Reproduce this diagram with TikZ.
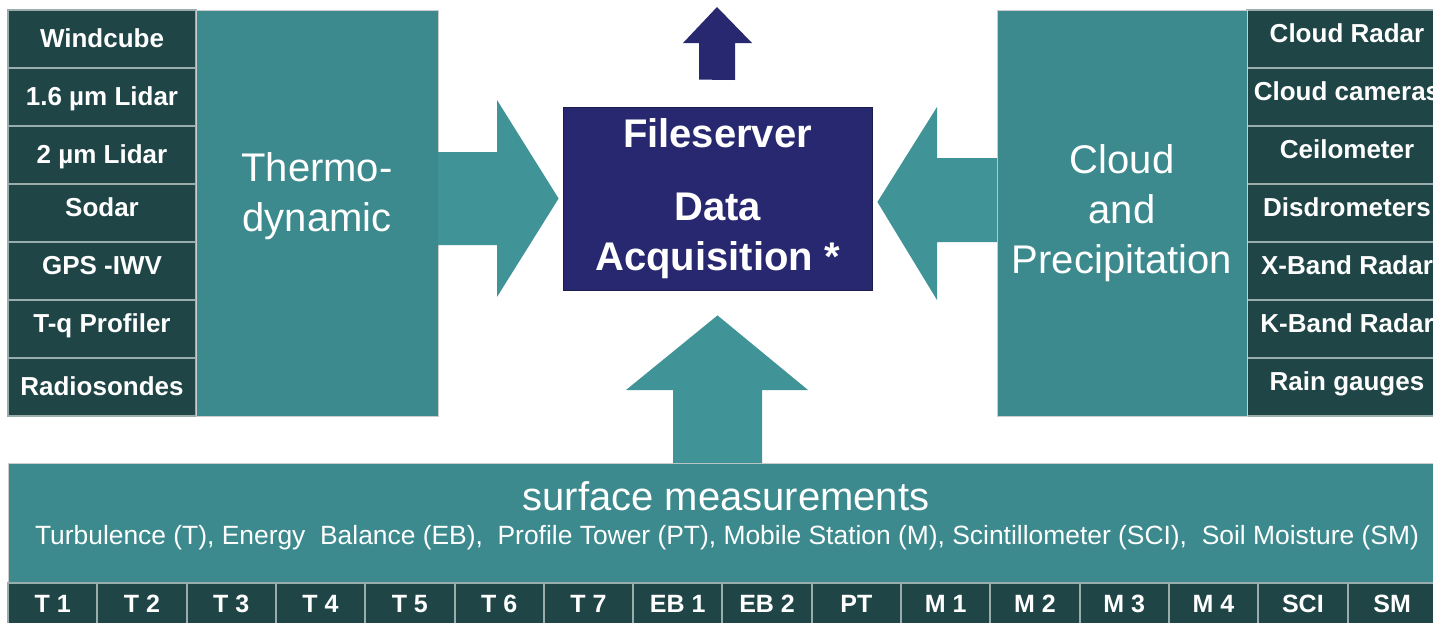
\documentclass[tikz,border=0pt]{standalone}
\usepackage{fontspec}
\setmainfont{Liberation Sans}
\usepackage{tikz}
\usetikzlibrary{positioning, calc}

\definecolor{cellDark}{HTML}{1F4547}
\definecolor{cellLine}{HTML}{9AADAD}
\definecolor{panelTeal}{HTML}{3C8A8E}
\definecolor{flowTeal}{HTML}{409397}
\definecolor{serverBlue}{HTML}{27286F}

\tikzset{
    cell/.style   = {draw=cellLine, line width=1pt, fill=cellDark, text=white,
                     inner sep=0pt, outer sep=0pt, minimum width=94pt,
                     minimum height=29pt, text height=12pt, text depth=4pt,
                     font=\bfseries\fontsize{13}{15}\selectfont},
    upper/.style  = {text depth=9pt},                 % text sits high in the row
    rcell/.style  = {cell, upper, minimum width=100pt},
    bcell/.style  = {cell, minimum width=44.65pt, minimum height=21pt,
                     font=\bfseries\fontsize{12.5}{15}\selectfont},
    panel/.style  = {draw=gray!40, line width=0.5pt, fill=panelTeal, text=white,
                     inner sep=0pt, outer sep=0pt, align=center,
                     font=\fontsize{20}{25}\selectfont},
    server/.style = {draw=serverBlue!70!black, fill=serverBlue, text=white,
                     align=center, inner sep=0pt, minimum width=154.5pt,
                     minimum height=91.5pt, font=\bfseries\fontsize{20}{25}\selectfont},
    flow/.style   = {fill=flowTeal},
}

\begin{document}
\begin{tikzpicture}[x=0.5pt, y=-0.5pt]
    \useasboundingbox (0,0) rectangle (1433,622);
    \fill[white] (0,0) rectangle (1433,622);
    \clip (0,0) rectangle (1433,622);

    % Thermodynamic instruments
    \node[cell] (wc) at (102,39) {Windcube};
    \node[cell, below=0pt of wc] (lid16) {1.6 µm Lidar};
    \node[cell, below=0pt of lid16] (lid2) {2 µm Lidar};
    \node[cell, upper, below=0pt of lid2] (sodar) {Sodar};
    \node[cell, upper, below=0pt of sodar] (gps) {GPS -IWV};
    \node[cell, upper, below=0pt of gps] (tq) {T-q Profiler};
    \node[cell, below=0pt of tq] (rs) {Radiosondes};

    \node[panel, minimum width=121pt, minimum height=203pt, anchor=north west]
        (thermo) at (wc.north east) {};
    \node[text=white, align=center, font=\fontsize{20}{25}\selectfont]
        (thermoT) at (317,196) {Thermo-\\dynamic};

    % Cloud and precipitation instruments
    \node[rcell] (cr) at (1347,39) {Cloud Radar};
    \node[rcell, below=0pt of cr] (cc) {Cloud cameras};
    \node[rcell, below=0pt of cc] (ceil) {Ceilometer};
    \node[rcell, below=0pt of ceil] (dis) {Disdrometers};
    \node[rcell, below=0pt of dis] (xb) {X-Band Radar};
    \node[rcell, below=0pt of xb] (kb) {K-Band Radar};
    \node[rcell, below=0pt of kb] (rg) {Rain gauges};

    \node[panel, minimum width=125pt, minimum height=203pt, anchor=north east]
        (cloud) at (cr.north west) {Cloud\\and\\Precipitation};

    % Central server
    \node[server] (fs) at (717.5,198.5) {Fileserver\\[11.5pt]Data\\Acquisition *};

    % Surface measurements
    \node[panel, minimum width=718.5pt, minimum height=60pt, anchor=north west]
        (surf) at (8,463) {};
    \node[text=white, font=\fontsize{20}{24}\selectfont] (surfT) at (726,496)
        {surface measurements};
    \node[text=white, font=\fontsize{13.2}{15}\selectfont] (surfS) at (727,538)
        {Turbulence (T), Energy\ \ Balance (EB),\ \ Profile Tower (PT), Mobile Station (M), Scintillometer (SCI),\ \ Soil Moisture (SM)};

    \node[bcell] (t1) at (52.65,604) {T 1};
    \node[bcell, right=0pt of t1] (t2) {T 2};
    \node[bcell, right=0pt of t2] (t3) {T 3};
    \node[bcell, right=0pt of t3] (t4) {T 4};
    \node[bcell, right=0pt of t4] (t5) {T 5};
    \node[bcell, right=0pt of t5] (t6) {T 6};
    \node[bcell, right=0pt of t6] (t7) {T 7};
    \node[bcell, right=0pt of t7] (eb1) {EB 1};
    \node[bcell, right=0pt of eb1] (eb2) {EB 2};
    \node[bcell, right=0pt of eb2] (pt) {PT};
    \node[bcell, right=0pt of pt] (m1) {M 1};
    \node[bcell, right=0pt of m1] (m2) {M 2};
    \node[bcell, right=0pt of m2] (m3) {M 3};
    \node[bcell, right=0pt of m3] (m4) {M 4};
    \node[bcell, right=0pt of m4] (sci) {SCI};
    \node[bcell, right=0pt of sci] (sm) {SM};

    % Block arrows into and out of the server
    \fill[flow] (thermo.east |- 0,152) -- (497,152) -- (497,100)
        -- ($(fs.west)+(-4,0)$) -- (497,297) -- (497,245)
        -- (thermo.east |- 0,245) -- cycle;
    \fill[flow] (cloud.west |- 0,158) -- (937,158) -- (937,107)
        -- ($(fs.east)+(5,3.5)$) -- (937,300) -- (937,242)
        -- (cloud.west |- 0,242) -- cycle;
    \fill[flow] (surf.north -| 673,0) -- (673,390) -- (626,390)
        -- ($(fs.south)+(0,25)$) -- (808,390) -- (762,390)
        -- (surf.north -| 762,0) -- cycle;
    \fill[serverBlue] ($(fs.north)+(-18.5,-27)$) -- (699,43) -- (683,43)
        -- (717,7) -- (752,43) -- (735,43) -- (735,80) -- cycle;
\end{tikzpicture}
\end{document}
